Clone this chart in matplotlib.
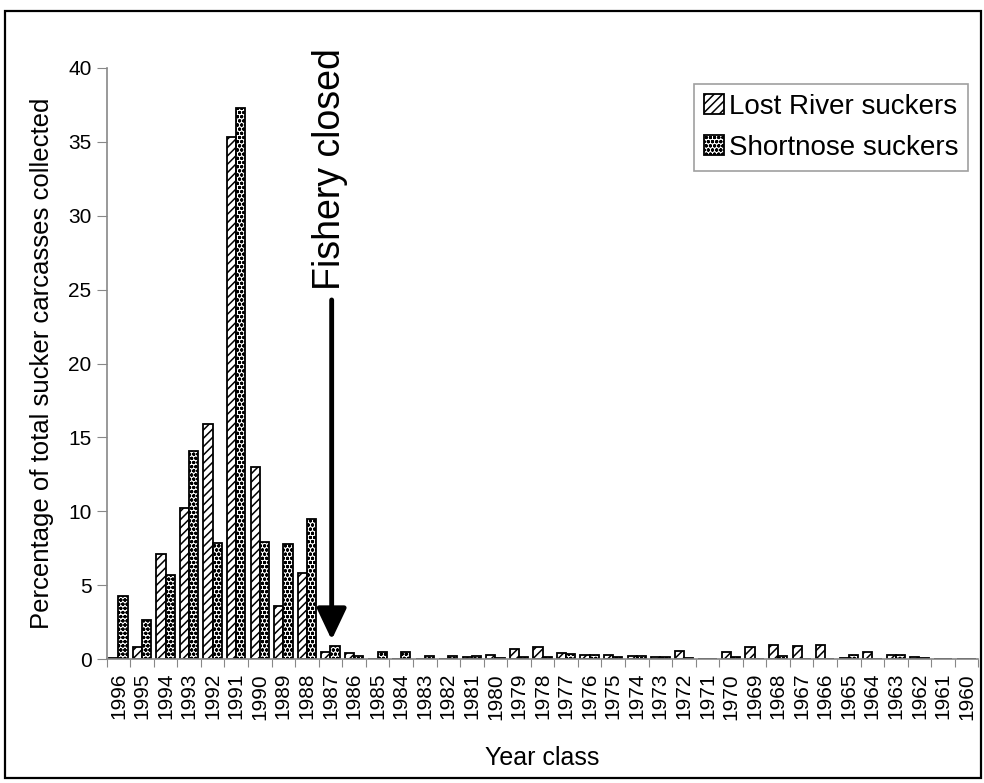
import matplotlib
matplotlib.use("Agg")
import matplotlib.pyplot as plt
import numpy as np
from matplotlib.patches import Rectangle

plt.rcParams['font.family'] = ['Liberation Sans', 'DejaVu Sans']
plt.rcParams['hatch.linewidth'] = 1.1

years = [str(y) for y in range(1996, 1959, -1)]
lost_river = [0.1, 0.8, 7.1, 10.2, 15.9, 35.3, 13.0, 3.6, 5.8, 0.45, 0.4, 0, 0, 0, 0,
              0.15, 0.3, 0.7, 0.8, 0.4, 0.3, 0.3, 0.2, 0.15, 0.55, 0, 0.5, 0.8, 0.95,
              0.85, 0.95, 0.1, 0.5, 0.3, 0.15, 0, 0]
shortnose = [4.3, 2.65, 5.7, 14.1, 7.85, 37.3, 7.95, 7.8, 9.5, 0.85, 0.2, 0.5, 0.5, 0.2,
             0.2, 0.2, 0.1, 0.15, 0.15, 0.35, 0.25, 0.15, 0.2, 0.15, 0.1, 0, 0.15, 0,
             0.2, 0, 0, 0.3, 0, 0.25, 0.1, 0, 0]
series_names = ["Lost River suckers", "Shortnose suckers"]
y_ticks = [0, 5, 10, 15, 20, 25, 30, 35, 40]

fig = plt.figure(figsize=(9.84, 7.83), dpi=100)
ax = fig.add_axes([0.1084, 0.1583, 0.8859, 0.7549])

x = np.arange(len(years))
w = 0.39
ax.bar(x - w / 2, lost_river, width=w, facecolor='white', edgecolor='black',
       linewidth=1.3, hatch='////', label=series_names[0])
ax.bar(x + w / 2, shortnose, width=w, facecolor='white', edgecolor='black',
       linewidth=1.3, hatch='oooo', label=series_names[1])

ax.set_xlim(-0.5, len(years) - 0.5)
ax.set_ylim(0, 40)
ax.set_yticks(y_ticks)
ax.set_yticklabels([str(t) for t in y_ticks], fontsize=15)

# category labels at centers (minor), tick marks at boundaries (major)
ax.set_xticks(np.arange(len(years) + 1) - 0.5)
ax.set_xticklabels([])
ax.set_xticks(x, minor=True)
ax.set_xticklabels(years, minor=True, rotation=90, fontsize=15)
ax.tick_params(axis='x', which='major', length=6, color='#888888', direction='out')
ax.tick_params(axis='x', which='minor', length=0, pad=10)
ax.tick_params(axis='y', length=7, color='#888888', direction='out', pad=4)

for s in ['top', 'right']:
    ax.spines[s].set_visible(False)
for s in ['left', 'bottom']:
    ax.spines[s].set_color('#888888')
    ax.spines[s].set_linewidth(1.2)

ax.set_xlabel("Year class", fontsize=18, labelpad=19)
ax.set_ylabel("Percentage of total sucker carcasses collected", fontsize=18.5, labelpad=10)

# Fishery closed annotation
ax.annotate("", xy=(9.05, 1.3), xytext=(9.05, 24.3),
            arrowprops=dict(arrowstyle='-|>,head_width=0.9,head_length=1.9',
                            color='black', lw=3.5, shrinkA=0, shrinkB=0))
ax.text(9.0, 25.0, "Fishery closed", rotation=90, ha='center', va='bottom',
        fontsize=27, clip_on=False)

leg = ax.legend(loc='upper right', bbox_to_anchor=(0.9885, 0.973), fontsize=20,
                frameon=True, fancybox=False, edgecolor='#888888',
                handlelength=0.7, handleheight=0.7, handletextpad=0.2,
                borderpad=0.35, labelspacing=0.55, borderaxespad=0)
leg.get_frame().set_linewidth(1.2)

# outer frame
W, H = 984, 783
fig.patches.append(Rectangle((5 / W, 1 - 778 / H), (981 - 5) / W, (778 - 11) / H,
                             transform=fig.transFigure, fill=False,
                             edgecolor='black', linewidth=1.6))

fig.savefig("out.png", dpi=100)
